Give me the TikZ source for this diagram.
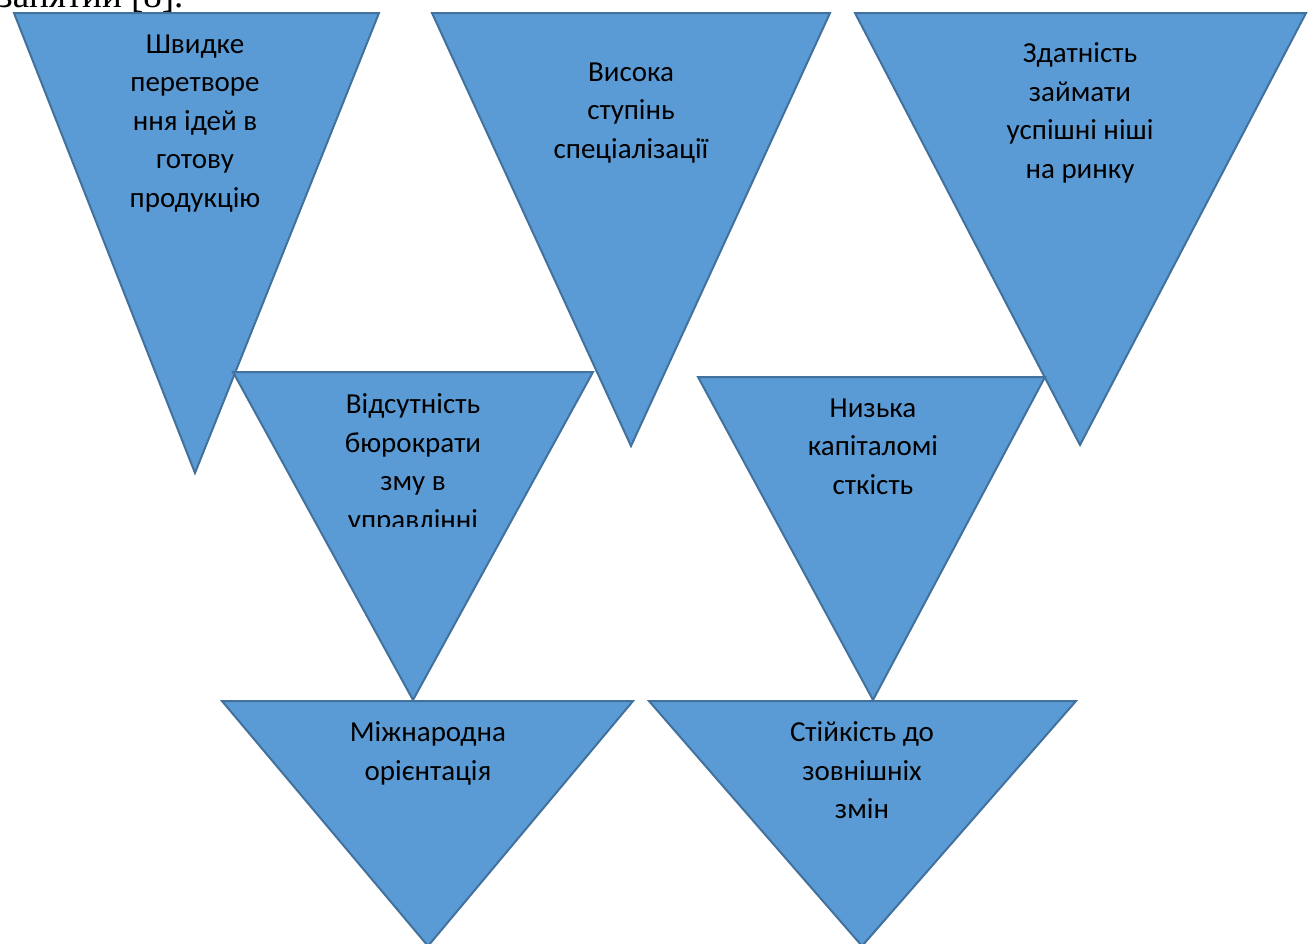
\documentclass[tikz,border=0pt]{standalone}
\usepackage{fontspec}
\setmainfont{Carlito}
\newfontfamily\bodyfont{Liberation Serif}
\definecolor{trifill}{HTML}{5B9BD5}
\definecolor{triline}{HTML}{41719C}

\begin{document}
\begin{tikzpicture}
[x=1pt,y=-1pt,
 tri/.style={fill=trifill,draw=triline,line width=2pt,line join=miter},
 lbl/.style={align=center,inner sep=0pt,anchor=north,
   font=\fontsize{29}{38.5}\selectfont,execute at begin node=\strut}]
\useasboundingbox (0,0) rectangle (1311,943);
\clip (0,0) rectangle (1311,943);

% text of the page above the figure
\node[anchor=base west,inner sep=0pt,font=\bodyfont\fontsize{37}{44}\selectfont]
  (page) at (-2,7.5) {занятий [8].};

% upper row
\draw[tri] (14,13) coordinate (t1a) -- (379,13) coordinate (t1b) -- (195,473) coordinate (t1c) -- cycle;
\draw[tri] (432,13) coordinate (t2a) -- (830,13) coordinate (t2b) -- (631,446) coordinate (t2c) -- cycle;
\draw[tri] (855,13) coordinate (t3a) -- (1306,13) coordinate (t3b) -- (1080,445) coordinate (t3c) -- cycle;
\node[lbl] (speed) at (195,34.5) {Швидке\\перетворе\\ння ідей в\\готову\\продукцію};
\node[lbl] (special) at (631,62.5) {Висока\\ступінь\\спеціалізації};
\node[lbl] (niche) at (1080,42.5) {Здатність\\займати\\успішні ніші\\на ринку};

% middle row
\draw[tri] (233,372) coordinate (t4a) -- (593,372) coordinate (t4b) -- (413,700) coordinate (t4c) -- cycle;
\draw[tri] (698,377) coordinate (t5a) -- (1045,377) coordinate (t5b) -- (873,700) coordinate (t5c) -- cycle;
\begin{scope}
  \clip (233,372) rectangle (593,526);
  \node[lbl] (bureau) at (413,393.5) {Відсутність\\бюрократи\\зму в\\управлінні};
\end{scope}
\node[lbl] (capital) at (873,398.5) {Низька\\капіталомі\\сткість};

% lower row
\draw[tri] (222,701) coordinate (t6a) -- (633,701) coordinate (t6b) -- (428,946) coordinate (t6c) -- cycle;
\draw[tri] (649,701) coordinate (t7a) -- (1076,701) coordinate (t7b) -- (862,946) coordinate (t7c) -- cycle;
\node[lbl] (intl) at (428,721.5) {Міжнародна\\орієнтація};
\node[lbl] (stable) at (862,721.5) {Стійкість до\\зовнішніх\\змін};
\end{tikzpicture}
\end{document}
